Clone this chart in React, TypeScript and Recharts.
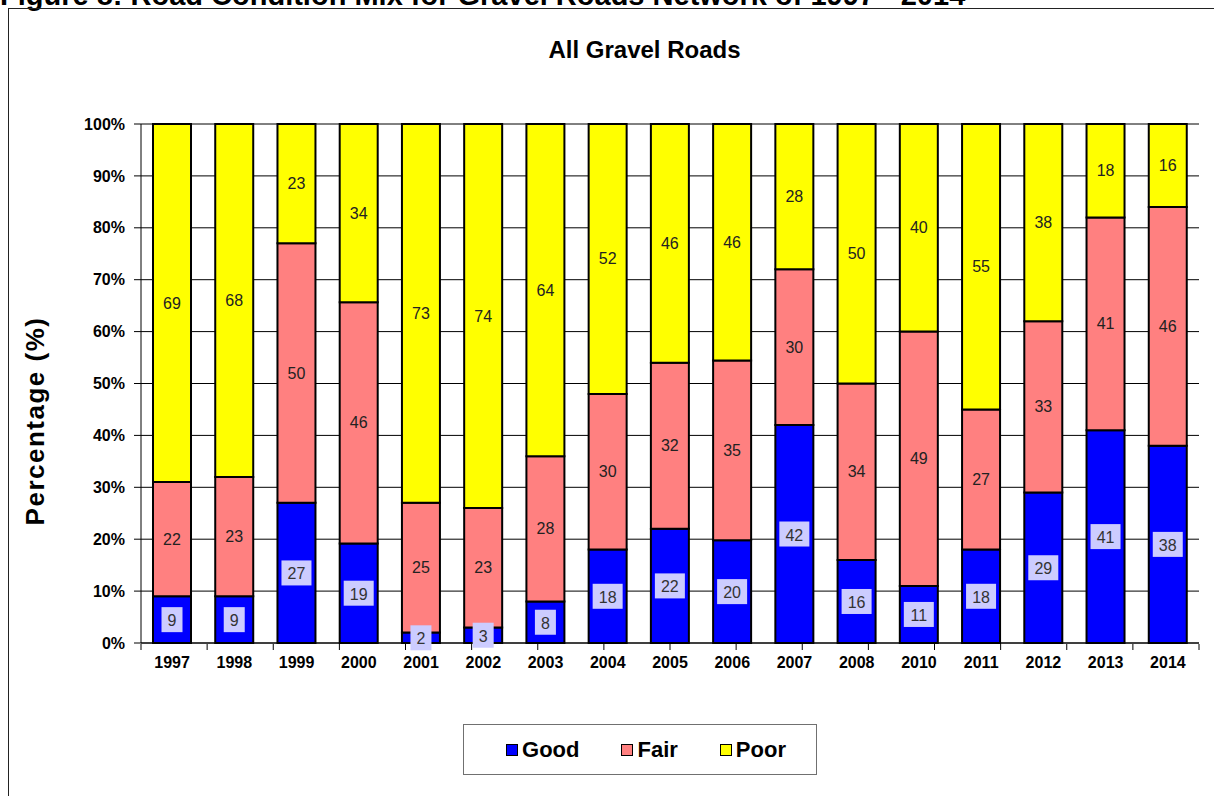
import React from 'react';
import { BarChart, Bar, XAxis, YAxis, CartesianGrid, LabelList, Legend } from 'recharts';

const years = ['1997', '1998', '1999', '2000', '2001', '2002', '2003', '2004', '2005', '2006', '2007', '2008', '2010', '2011', '2012', '2013', '2014'];
const good = [9, 9, 27, 19, 2, 3, 8, 18, 22, 20, 42, 16, 11, 18, 29, 41, 38];
const fair = [22, 23, 50, 46, 25, 23, 28, 30, 32, 35, 30, 34, 49, 27, 33, 41, 46];
const poor = [69, 68, 23, 34, 73, 74, 64, 52, 46, 46, 28, 50, 40, 55, 38, 18, 16];
const yTicks = [0, 0.1, 0.2, 0.3, 0.4, 0.5, 0.6, 0.7, 0.8, 0.9, 1];
const edgeTicks = years.map((_, i) => i).concat([years.length]);

const series = [
  { key: 'Good', color: '#0000ff' },
  { key: 'Fair', color: '#ff8080' },
  { key: 'Poor', color: '#ffff00' },
];

const data = years.map((y, i) => ({ year: y, Good: good[i], Fair: fair[i], Poor: poor[i] }));

const FONT = '"Liberation Sans", Arial, sans-serif';

const GoodLabel = (props: any) => {
  const { x, y, width, height, value } = props;
  const cx = Number(x) + Number(width) / 2;
  const cy = Number(y) + Number(height) / 2;
  const w = String(value).length * 9 + 12;
  return (
    <g>
      <rect x={cx - w / 2} y={cy - 12.5} width={w} height={25} fill="#ccccff" />
      <text x={cx} y={cy + 1} textAnchor="middle" dominantBaseline="central" fontSize={16} fill="#333" fontFamily={FONT}>
        {value}
      </text>
    </g>
  );
};

const PlainLabel = (props: any) => {
  const { x, y, width, height, value } = props;
  const cx = Number(x) + Number(width) / 2;
  const cy = Number(y) + Number(height) / 2;
  return (
    <text x={cx} y={cy} textAnchor="middle" dominantBaseline="central" fontSize={16} fill="#222" fontFamily={FONT}>
      {value}
    </text>
  );
};

const EmptyTick = () => <g />;

const LegendBox = () => (
  <div
    style={{
      width: 354,
      height: 51,
      border: '1px solid #707070',
      background: '#fff',
      display: 'flex',
      alignItems: 'center',
      justifyContent: 'center',
      paddingLeft: 12,
      boxSizing: 'border-box',
      gap: 42,
      fontFamily: FONT,
    }}
  >
    {series.map((s) => (
      <div key={s.key} style={{ display: 'flex', alignItems: 'center' }}>
        <div style={{ width: 10, height: 10, background: s.color, border: '1.5px solid #000', marginRight: 4 }} />
        <span style={{ fontSize: 22, fontWeight: 'bold', color: '#000', lineHeight: '22px' }}>{s.key}</span>
      </div>
    ))}
  </div>
);

export default function App() {
  return (
    <div style={{ position: 'fixed', left: 0, top: 0, width: 1214, height: 796, overflow: 'hidden', background: '#fff', fontFamily: FONT }}>
      <svg width={1214} height={796} style={{ position: 'absolute', left: 0, top: 0 }}>
        <text x={0} y={5} fontSize={29} fontWeight="bold" fill="#000" fontFamily={FONT}>
          Figure 8: Road Condition Mix for Gravel Roads Network of 1997 - 2014
        </text>
        <rect x={8.5} y={8.5} width={1400} height={1000} fill="none" stroke="#222" strokeWidth={1} />
        <text x={644.5} y={58} textAnchor="middle" fontSize={24} fontWeight="bold" fill="#000" fontFamily={FONT}>
          All Gravel Roads
        </text>
        <text x={44} y={421} transform="rotate(-90, 44, 421)" textAnchor="middle" fontSize={26} fontWeight="bold" letterSpacing={1.5} fill="#000" fontFamily={FONT}>
          Percentage (%)
        </text>
      </svg>
      <div style={{ position: 'absolute', left: 0, top: 0 }}>
        <BarChart
          width={1214}
          height={796}
          data={data}
          stackOffset="expand"
          margin={{ top: 124, right: 15, bottom: 124, left: 0 }}
          barSize={38}
        >
          <CartesianGrid vertical={false} stroke="#000" strokeWidth={1} />
          <XAxis
            dataKey="year"
            interval={0}
            tickLine={false}
            axisLine={{ stroke: '#000' }}
            tickSize={0}
            tickMargin={14}
            height={1}
            tick={{ fill: '#000', fontSize: 16, fontWeight: 'bold', fontFamily: FONT }}
          />
          <XAxis
            xAxisId="edge"
            type="number"
            domain={[0, years.length]}
            ticks={edgeTicks}
            interval={0}
            tick={EmptyTick}
            tickSize={6}
            tickLine={{ stroke: '#000', strokeWidth: 1 }}
            axisLine={false}
            height={28}
            allowDataOverflow
          />
          <YAxis
            domain={[0, 1]}
            ticks={yTicks}
            interval={0}
            tickFormatter={(v: number) => `${Math.round(v * 100)}%`}
            width={141}
            tickSize={7}
            tickMargin={9}
            axisLine={{ stroke: '#000' }}
            tickLine={{ stroke: '#000' }}
            tick={{ fill: '#000', fontSize: 16, fontWeight: 'bold', fontFamily: FONT }}
          />
          <YAxis
            yAxisId="r"
            orientation="right"
            domain={[0, 1]}
            width={0}
            tick={false}
            tickLine={false}
            axisLine={{ stroke: '#808080' }}
          />
          <Bar dataKey="Good" stackId="a" fill="#0000ff" stroke="#000" strokeWidth={2} isAnimationActive={false}>
            <LabelList dataKey="Good" content={GoodLabel} />
          </Bar>
          <Bar dataKey="Fair" stackId="a" fill="#ff8080" stroke="#000" strokeWidth={2} isAnimationActive={false}>
            <LabelList dataKey="Fair" content={PlainLabel} />
          </Bar>
          <Bar dataKey="Poor" stackId="a" fill="#ffff00" stroke="#000" strokeWidth={2} isAnimationActive={false}>
            <LabelList dataKey="Poor" content={PlainLabel} />
          </Bar>
          <Legend
            layout="horizontal"
            verticalAlign="middle"
            align="center"
            content={LegendBox}
            wrapperStyle={{ position: 'absolute', left: 463, top: 724, width: 356, height: 53 }}
          />
        </BarChart>
      </div>
    </div>
  );
}
